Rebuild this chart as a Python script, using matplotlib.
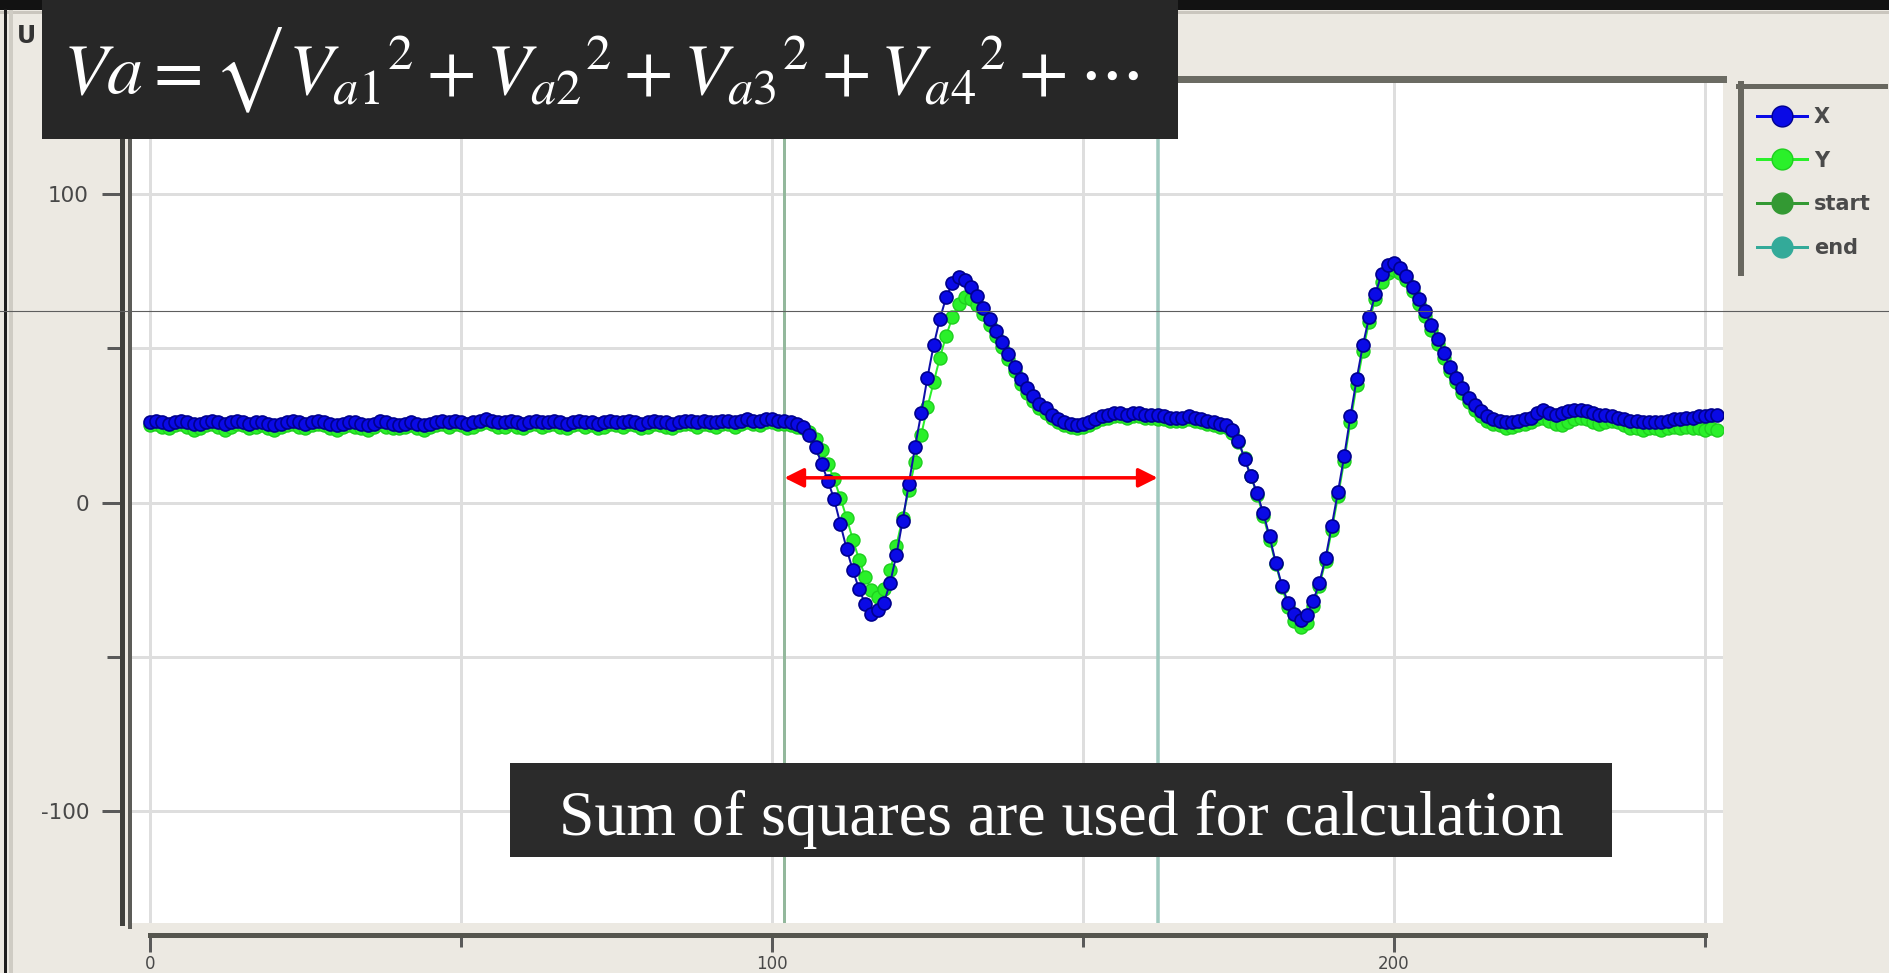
import matplotlib
matplotlib.use("Agg")
import matplotlib.pyplot as plt
from matplotlib.lines import Line2D
from matplotlib.patches import Rectangle
from matplotlib.transforms import Bbox

plt.rcParams["axes.unicode_minus"] = False
plt.rcParams["font.family"] = ["DejaVu Sans"]

# ---------------------------------------------------------------- data
sample_index = list(range(253))

x_series = [
    26.0, 26.5, 26.0, 25.5, 26.0, 26.5, 26.0, 25.5, 25.5, 26.0,
    26.5, 26.0, 25.5, 26.0, 26.5, 26.0, 25.5, 26.0, 26.0, 25.5,
    25.0, 25.5, 26.0, 26.5, 26.0, 25.5, 26.0, 26.5, 26.0, 25.5,
    25.0, 25.5, 26.0, 26.0, 25.5, 25.0, 25.5, 26.5, 26.0, 25.5,
    25.0, 25.5, 26.0, 25.5, 25.0, 25.5, 26.0, 26.5, 26.0, 26.5,
    26.0, 25.5, 26.0, 26.5, 27.0, 26.5, 26.0, 26.0, 26.5, 26.0,
    25.5, 26.0, 26.5, 26.0, 26.0, 26.5, 26.0, 25.5, 26.0, 26.5,
    26.0, 26.0, 25.5, 26.0, 26.5, 26.0, 26.0, 26.5, 26.0, 25.5,
    26.0, 26.5, 26.0, 26.0, 25.5, 26.0, 26.5, 26.5, 26.0, 26.5,
    26.0, 26.0, 26.5, 26.5, 26.0, 26.5, 27.0, 26.5, 26.5, 27.0,
    27.0, 26.5, 26.5, 26.0, 25.5, 24.5, 22.0, 18.0, 12.5, 7.0,
    1.0, -7.0, -15.0, -22.0, -28.0, -33.0, -36.0, -35.0, -32.5, -26.0,
    -17.0, -6.0, 6.0, 18.0, 29.0, 40.5, 51.0, 59.5, 66.5, 71.0,
    73.0, 72.0, 70.0, 67.0, 63.0, 59.5, 55.5, 52.0, 48.0, 44.0,
    40.0, 37.0, 34.5, 32.0, 30.5, 28.5, 27.0, 26.0, 25.5, 25.0,
    25.5, 26.0, 27.0, 28.0, 28.5, 29.0, 29.0, 28.5, 29.0, 29.0,
    28.5, 28.5, 28.5, 28.0, 27.5, 27.5, 27.5, 28.0, 27.5, 27.0,
    26.5, 26.0, 25.5, 25.0, 23.5, 20.0, 14.0, 8.5, 3.0, -3.5,
    -11.0, -19.5, -27.0, -32.5, -36.0, -38.0, -36.5, -32.0, -26.0, -18.0,
    -7.5, 3.5, 15.0, 28.0, 40.0, 51.0, 60.0, 67.5, 74.0, 77.0,
    77.5, 76.0, 73.5, 70.0, 66.0, 62.0, 57.5, 53.0, 48.5, 44.0,
    40.5, 37.0, 34.0, 31.5, 29.5, 28.0, 27.0, 26.5, 26.0, 26.0,
    26.5, 27.0, 27.5, 29.0, 30.0, 29.0, 28.5, 29.0, 29.5, 30.0,
    30.0, 29.5, 29.0, 28.5, 28.5, 28.0, 27.5, 27.0, 26.5, 26.5,
    26.0, 26.0, 26.0, 26.0, 26.5, 27.0, 27.0, 27.5, 27.5, 28.0,
    28.0, 28.5, 28.5,
]

y_series = [
    25.0, 25.5, 24.5, 24.0, 25.0, 25.5, 24.5, 23.5, 24.0, 25.0,
    25.5, 24.5, 23.5, 24.5, 25.5, 25.0, 24.0, 24.5, 25.0, 24.0,
    23.5, 24.5, 25.0, 25.5, 24.5, 24.0, 25.0, 25.5, 25.0, 24.0,
    23.5, 24.5, 25.0, 24.5, 24.0, 23.5, 24.5, 25.5, 24.5, 24.0,
    24.0, 24.5, 25.0, 24.0, 23.5, 24.5, 25.0, 25.5, 24.5, 25.5,
    25.0, 24.0, 24.5, 25.5, 26.0, 25.5, 24.5, 24.5, 25.5, 24.5,
    24.0, 25.0, 25.5, 24.5, 25.0, 25.5, 24.5, 24.0, 25.0, 25.5,
    24.5, 25.0, 24.0, 24.5, 25.5, 25.0, 24.5, 25.5, 25.0, 24.0,
    24.5, 25.5, 25.0, 24.5, 24.0, 25.0, 25.5, 25.5, 24.5, 25.5,
    25.0, 24.5, 25.5, 25.5, 24.5, 25.5, 26.0, 25.5, 25.0, 26.0,
    26.0, 25.5, 25.5, 25.0, 24.5, 24.0, 23.0, 20.5, 17.0, 12.5,
    7.5, 1.5, -5.0, -12.0, -18.5, -24.0, -28.5, -30.5, -28.0, -22.0,
    -14.0, -5.0, 4.0, 13.0, 22.0, 31.0, 39.0, 47.0, 54.0, 60.0,
    64.5, 66.5, 66.0, 64.0, 61.0, 57.5, 54.0, 50.5, 46.5, 42.5,
    38.5, 35.5, 33.0, 30.5, 29.0, 27.5, 26.0, 25.0, 24.5, 24.0,
    24.5, 25.0, 26.0, 27.0, 27.5, 28.0, 28.0, 27.5, 28.0, 28.0,
    27.5, 27.5, 27.0, 27.0, 26.5, 26.5, 26.5, 27.0, 26.5, 26.0,
    25.5, 25.0, 24.5, 24.5, 22.5, 19.5, 14.5, 8.5, 2.5, -4.5,
    -12.0, -20.0, -27.5, -34.0, -38.5, -40.5, -39.0, -33.5, -27.0, -19.0,
    -9.0, 2.0, 13.5, 26.0, 38.0, 49.0, 58.5, 66.0, 71.5, 74.5,
    75.5, 74.5, 72.0, 68.5, 64.5, 60.5, 56.0, 51.5, 47.0, 42.5,
    39.0, 35.5, 32.5, 30.0, 28.0, 26.5, 25.5, 25.0, 24.0, 24.5,
    25.0, 25.5, 26.0, 27.0, 27.5, 26.5, 25.5, 25.0, 26.0, 27.0,
    27.5, 27.0, 26.0, 25.5, 26.0, 26.5, 26.0, 25.0, 24.0, 24.0,
    23.5, 24.0, 24.0, 23.5, 24.0, 24.5, 24.0, 24.5, 24.0, 24.0,
    23.5, 24.0, 23.5,
]

start_pos = 102
end_pos = 162
span_level = 8

x_major_ticks = [0, 100, 200]
x_minor_ticks = [50, 150, 250]
y_major_ticks = [-100, 0, 100]
y_minor_ticks = [-50, 50]

legend_labels = ["X", "Y", "start", "end"]
panel_title = "U"
formula = (r"$Va={\sqrt{{V_{a1}}^{2}+{V_{a2}}^{2}+{V_{a3}}^{2}"
           r"+{V_{a4}}^{2}+\cdots}}$")
caption = "Sum of squares are used for calculation"

# ---------------------------------------------------------------- styling
W, H = 1889, 973
PT = 0.72  # points per pixel at 100 dpi
BG = "#ECE9E2"
C_X_FACE, C_X_EDGE = "#0a0ae6", "#00008e"
C_Y_FACE, C_Y_EDGE = "#2af02a", "#1fcf1f"
C_START, C_END = "#339933", "#33aa99"


def fx(px):
    return px / W


def fy(py):
    return 1 - py / H


fig = plt.figure(figsize=(W / 100, H / 100), dpi=100, facecolor=BG)

# window chrome around the plot widget
fig.add_artist(Rectangle((0, fy(10)), 1, 10 / H, transform=fig.transFigure,
                         facecolor="#121212", edgecolor="none", zorder=1))
fig.add_artist(Line2D([0, 1], [fy(11.5)] * 2, transform=fig.transFigure,
                      color="#cac6be", lw=3 * PT, zorder=1))
fig.add_artist(Line2D([fx(4.5)] * 2, [fy(10), 0], transform=fig.transFigure,
                      color="#1e1e1e", lw=3 * PT, zorder=1))
fig.add_artist(Line2D([fx(11)] * 2, [fy(12), 0], transform=fig.transFigure,
                      color="#cfccc4", lw=4 * PT, zorder=1))
fig.text(fx(17), fy(36), panel_title, fontsize=17, fontweight="bold",
         color="#333333", ha="left", va="center", zorder=2)

# ---------------------------------------------------------------- plot canvas
ax = fig.add_axes([fx(131), fy(923), (1723 - 131) / W, (923 - 82) / H])
ax.set_facecolor("white")
ax.set_xlim(-3.05, 252.9)
ax.set_ylim(-136.3, 136.3)

ax.set_xticks(x_major_ticks)
ax.set_xticks(x_minor_ticks, minor=True)
ax.set_yticks(y_major_ticks)
ax.set_yticks(y_minor_ticks, minor=True)
ax.set_xticklabels([str(v) for v in x_major_ticks])
ax.set_yticklabels([str(v) for v in y_major_ticks])

ax.grid(True, which="both", color="#dedede", lw=3 * PT)
ax.set_axisbelow(True)

ax.spines["right"].set_visible(False)
ax.spines["left"].set_position(("outward", 9.5 * PT))
ax.spines["left"].set_linewidth(5 * PT)
ax.spines["left"].set_color("#3f3f3b")
ax.spines["bottom"].set_position(("outward", 12 * PT))
ax.spines["bottom"].set_bounds(0, 250)
ax.spines["bottom"].set_linewidth(5 * PT)
ax.spines["bottom"].set_color("#55554e")
ax.spines["top"].set_position(("outward", 3.5 * PT))
ax.spines["top"].set_linewidth(7 * PT)
ax.spines["top"].set_color("#6b6b63")

ax.tick_params(axis="y", which="major", direction="out", length=20 * PT,
               width=3 * PT, color="#5a5a5a", pad=9, labelsize=15.5,
               labelcolor="#484848")
ax.tick_params(axis="y", which="minor", direction="out", length=15 * PT,
               width=3 * PT, color="#5a5a5a")
ax.tick_params(axis="x", which="major", direction="out", length=17 * PT,
               width=3 * PT, color="#5a5a5a", pad=2, labelsize=12,
               labelcolor="#484848")
ax.tick_params(axis="x", which="minor", direction="out", length=12 * PT,
               width=3 * PT, color="#5a5a5a")

# inner edge of the left axis backbone
fig.add_artist(Line2D([fx(129.5)] * 2, [fy(82), fy(927)],
                      transform=fig.transFigure, color="#5c5c58",
                      lw=4 * PT, zorder=1))

# marker lines
ax.axvline(start_pos, color="#93b89c", lw=3 * PT, zorder=2)
ax.axvline(end_pos, color="#9fc9be", lw=3.5 * PT, zorder=2)

# curves
ax.plot(sample_index, y_series, color=C_Y_FACE, lw=2 * PT, marker="o",
        ms=13 * PT, mfc=C_Y_FACE, mec=C_Y_EDGE, mew=1, zorder=3)
ax.plot(sample_index, x_series, color="#1010a8", lw=2 * PT, marker="o",
        ms=13 * PT, mfc=C_X_FACE, mec=C_X_EDGE, mew=1.2, zorder=4)

# span arrow between start and end
ax.annotate("", xy=(start_pos, span_level), xytext=(end_pos, span_level),
            arrowprops=dict(arrowstyle="<|-|>", color="#ff0000",
                            lw=3.5 * PT, mutation_scale=29,
                            shrinkA=0, shrinkB=0),
            zorder=6)

# ---------------------------------------------------------------- legend
handles = [
    Line2D([], [], color=C_X_FACE, lw=3 * PT, marker="o", ms=15,
           mfc=C_X_FACE, mec=C_X_EDGE),
    Line2D([], [], color=C_Y_FACE, lw=3 * PT, marker="o", ms=15,
           mfc=C_Y_FACE, mec=C_Y_EDGE),
    Line2D([], [], color=C_START, lw=3 * PT, marker="o", ms=15,
           mfc=C_START, mec=C_START),
    Line2D([], [], color=C_END, lw=3 * PT, marker="o", ms=15,
           mfc=C_END, mec=C_END),
]
leg = fig.legend(handles, legend_labels, loc="upper left",
                 bbox_to_anchor=(fx(1757), fy(107)), frameon=False,
                 fontsize=15, handlelength=2.4, handletextpad=0.34,
                 labelspacing=1.14, borderpad=0, borderaxespad=0)
for txt in leg.get_texts():
    txt.set_color("#4a4a4a")
    txt.set_fontweight("bold")
fig.add_artist(Line2D([fx(1741)] * 2, [fy(84), fy(273)],
                      transform=fig.transFigure, color="#68675f",
                      lw=6 * PT, zorder=2))
fig.add_artist(Line2D([fx(1738), fx(1885)], [fy(86)] * 2,
                      transform=fig.transFigure, color="#68675f",
                      lw=5 * PT, zorder=2))

# thin guide line across the window
fig.add_artist(Line2D([0, 1], [fy(311)] * 2, transform=fig.transFigure,
                      color="#5e5e5e", lw=1.1 * PT, zorder=7))

# ---------------------------------------------------------------- text boxes
fig.add_artist(Rectangle((fx(42), fy(139)), (1178 - 42) / W, 139 / H,
                         transform=fig.transFigure, facecolor="#272727",
                         edgecolor="none", zorder=10))
fig.add_artist(Rectangle((fx(510), fy(857)), (1612 - 510) / W, (857 - 763) / H,
                         transform=fig.transFigure, facecolor="#2b2b2b",
                         edgecolor="none", zorder=10))

ftxt = fig.text(fx(63), fy(94), formula, fontsize=48, color="white",
                ha="left", va="baseline", math_fontfamily="stix", zorder=11)
ctxt = fig.text(fx(1061), fy(835), caption, fontsize=44,
                family="Liberation Serif", color="white",
                ha="center", va="baseline", zorder=11)

fig.canvas.draw()
renderer = fig.canvas.get_renderer()
fw = ftxt.get_window_extent(renderer).width
ftxt.set_fontsize(48 * 1092 / fw)
cw = ctxt.get_window_extent(renderer).width
ctxt.set_fontsize(44 * 1007 / cw)

# the radical's overbar sits above the box's visible band
ftxt.set_clip_box(Bbox([[42, H - 139], [1178, H - 27]]))
ftxt.set_clip_on(True)

fig.savefig("out.png", dpi=100, facecolor=BG)
